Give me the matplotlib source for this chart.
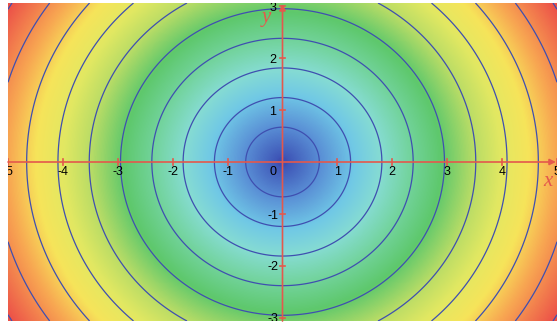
import numpy as np
import matplotlib
matplotlib.use('Agg')
import matplotlib.pyplot as plt
from matplotlib.colors import LinearSegmentedColormap

# field: z = sqrt(x^2 + y^2)
x_range = (-5.0, 5.0)
y_range = (-3.06, 3.06)
contour_levels = [0.08, 0.67, 1.24, 1.81, 2.38, 2.95, 3.52, 4.09, 4.66, 5.23, 5.8]
x_ticks = [-5, -4, -3, -2, -1, 1, 2, 3, 4, 5]
y_ticks = [-3, -2, -1, 1, 2, 3]

# colour stops (radius, colour)
cmap_stops = [(0.0, '#3a4cb2'), (0.7, '#5a90d6'), (1.3, '#70c8e6'), (1.8, '#86dcd2'),
              (2.3, '#74d4a0'), (2.9, '#5ec86c'), (3.5, '#b8dc66'), (4.0, '#e2e862'),
              (4.5, '#f6e45a'), (5.0, '#f8a852'), (5.83, '#ec5048')]

zmax = cmap_stops[-1][0]
cmap = LinearSegmentedColormap.from_list('field', [(r / zmax, c) for r, c in cmap_stops])

gx = np.linspace(x_range[0], x_range[1], 600)
gy = np.linspace(y_range[0], y_range[1], 360)
X, Y = np.meshgrid(gx, gy)
Z = np.sqrt(X**2 + Y**2)

fig = plt.figure(figsize=(5.58, 3.26), dpi=100)
ax = fig.add_axes([8 / 558, 5 / 326, 549 / 558, 318 / 326])
ax.imshow(Z, extent=(x_range[0], x_range[1], y_range[0], y_range[1]), origin='lower',
          cmap=cmap, vmin=0, vmax=zmax, aspect='auto', interpolation='bilinear')
ax.contour(X, Y, Z, levels=contour_levels, colors='#3f4fb0', linewidths=0.9)

ax.set_xlim(*x_range)
ax.set_ylim(*y_range)
ax.axis('off')

red = '#e4584c'
ax.annotate('', xy=(4.98, 0), xytext=(-5, 0),
            arrowprops=dict(arrowstyle='-|>', color=red, lw=1.2, mutation_scale=9,
                            shrinkA=0, shrinkB=0))
ax.annotate('', xy=(0, 3.04), xytext=(0, -3.06),
            arrowprops=dict(arrowstyle='-|>', color=red, lw=1.2, mutation_scale=9,
                            shrinkA=0, shrinkB=0))

for t in x_ticks:
    ax.plot([t, t], [-0.05, 0.05], color=red, lw=1.2)
    ax.text(t, -0.19, str(t), ha='center', va='center', fontsize=9,
            family='Liberation Sans', clip_on=True)
for t in y_ticks:
    ax.plot([-0.05, 0.05], [t, t], color=red, lw=1.2)
    ax.text(-0.18, t - 0.03, str(t), ha='center', va='center', fontsize=9,
            family='Liberation Sans', clip_on=True)
ax.text(-0.18, -0.19, '0', ha='center', va='center', fontsize=9, family='Liberation Sans')

ax.text(4.83, -0.38, 'x', color=red, fontsize=15, style='italic', family='Liberation Serif',
        ha='center', va='center')
ax.text(-0.3, 2.78, 'y', color=red, fontsize=15, style='italic', family='Liberation Serif',
        ha='center', va='center')

fig.savefig('out.png', dpi=100)
